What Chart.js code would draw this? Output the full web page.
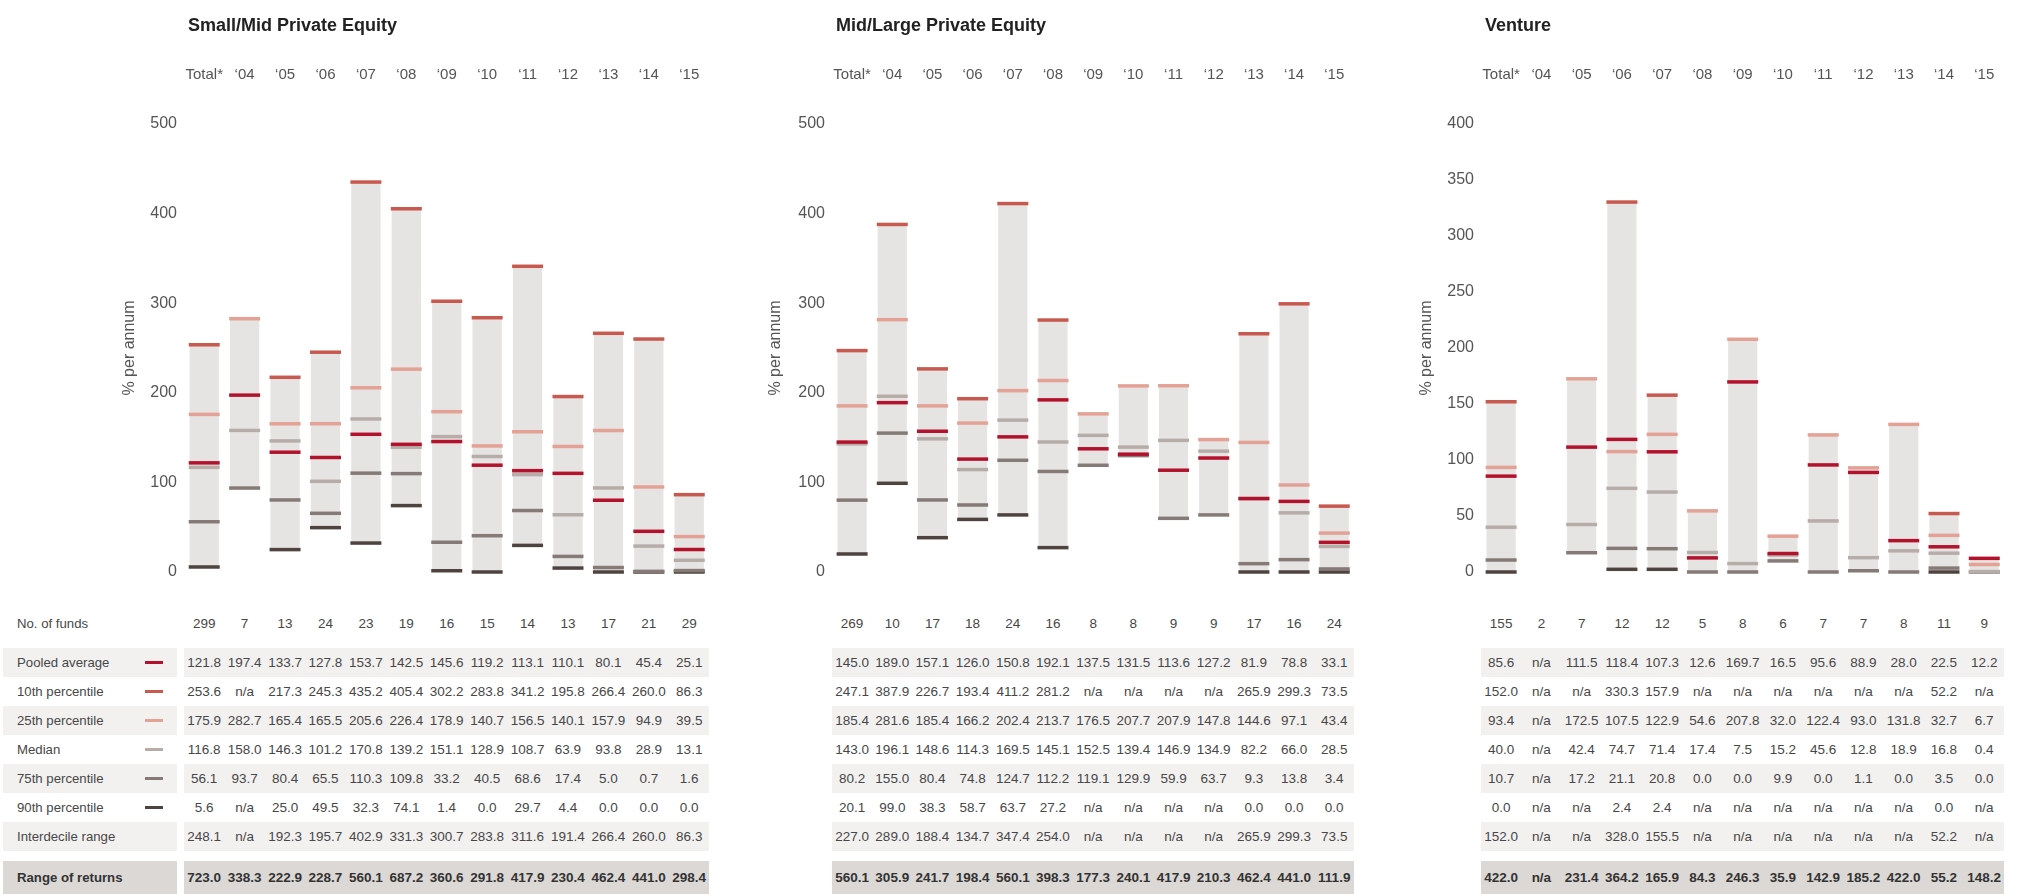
<!DOCTYPE html>
<html>
<head>
<meta charset="utf-8">
<title>Returns by vintage year</title>
<script src="https://cdn.jsdelivr.net/npm/chart.js"></script>
<style>
  html, body { margin: 0; padding: 0; background: #ffffff; }
  body {
    width: 2035px; height: 894px; position: relative; overflow: hidden;
    font-family: "Liberation Sans", Arial, Helvetica, sans-serif; color: #474747;
  }
  canvas { position: absolute; top: 0; }
  .title { position: absolute; top: 13px; font-size: 18px; font-weight: bold; color: #222222; white-space: nowrap; line-height: 24px; }
  .box { position: absolute; }
  .txt { position: absolute; font-size: 13.5px; white-space: nowrap; text-align: center; }
  .lbl { position: absolute; font-size: 13.2px; white-space: nowrap; }
  .bold { font-weight: bold; color: #333333; }
</style>
</head>
<body>
<script>
// Vintage years shown on every panel
const categories = ['Total*', '\u201804', '\u201805', '\u201806', '\u201807', '\u201808', '\u201809', '\u201810', '\u201811', '\u201812', '\u201813', '\u201814', '\u201815'];

// Small/Mid Private Equity
const smFunds       = [299, 7, 13, 24, 23, 19, 16, 15, 14, 13, 17, 21, 29];
const smPooled      = [121.8, 197.4, 133.7, 127.8, 153.7, 142.5, 145.6, 119.2, 113.1, 110.1, 80.1, 45.4, 25.1];
const smP10         = [253.6, null, 217.3, 245.3, 435.2, 405.4, 302.2, 283.8, 341.2, 195.8, 266.4, 260.0, 86.3];
const smP25         = [175.9, 282.7, 165.4, 165.5, 205.6, 226.4, 178.9, 140.7, 156.5, 140.1, 157.9, 94.9, 39.5];
const smMedian      = [116.8, 158.0, 146.3, 101.2, 170.8, 139.2, 151.1, 128.9, 108.7, 63.9, 93.8, 28.9, 13.1];
const smP75         = [56.1, 93.7, 80.4, 65.5, 110.3, 109.8, 33.2, 40.5, 68.6, 17.4, 5.0, 0.7, 1.6];
const smP90         = [5.6, null, 25.0, 49.5, 32.3, 74.1, 1.4, 0.0, 29.7, 4.4, 0.0, 0.0, 0.0];
const smInterdecile = [248.1, null, 192.3, 195.7, 402.9, 331.3, 300.7, 283.8, 311.6, 191.4, 266.4, 260.0, 86.3];
const smRange       = [723.0, 338.3, 222.9, 228.7, 560.1, 687.2, 360.6, 291.8, 417.9, 230.4, 462.4, 441.0, 298.4];

// Mid/Large Private Equity
const mlFunds       = [269, 10, 17, 18, 24, 16, 8, 8, 9, 9, 17, 16, 24];
const mlPooled      = [145.0, 189.0, 157.1, 126.0, 150.8, 192.1, 137.5, 131.5, 113.6, 127.2, 81.9, 78.8, 33.1];
const mlP10         = [247.1, 387.9, 226.7, 193.4, 411.2, 281.2, null, null, null, null, 265.9, 299.3, 73.5];
const mlP25         = [185.4, 281.6, 185.4, 166.2, 202.4, 213.7, 176.5, 207.7, 207.9, 147.8, 144.6, 97.1, 43.4];
const mlMedian      = [143.0, 196.1, 148.6, 114.3, 169.5, 145.1, 152.5, 139.4, 146.9, 134.9, 82.2, 66.0, 28.5];
const mlP75         = [80.2, 155.0, 80.4, 74.8, 124.7, 112.2, 119.1, 129.9, 59.9, 63.7, 9.3, 13.8, 3.4];
const mlP90         = [20.1, 99.0, 38.3, 58.7, 63.7, 27.2, null, null, null, null, 0.0, 0.0, 0.0];
const mlInterdecile = [227.0, 289.0, 188.4, 134.7, 347.4, 254.0, null, null, null, null, 265.9, 299.3, 73.5];
const mlRange       = [560.1, 305.9, 241.7, 198.4, 560.1, 398.3, 177.3, 240.1, 417.9, 210.3, 462.4, 441.0, 111.9];

// Venture
const vcFunds       = [155, 2, 7, 12, 12, 5, 8, 6, 7, 7, 8, 11, 9];
const vcPooled      = [85.6, null, 111.5, 118.4, 107.3, 12.6, 169.7, 16.5, 95.6, 88.9, 28.0, 22.5, 12.2];
const vcP10         = [152.0, null, null, 330.3, 157.9, null, null, null, null, null, null, 52.2, null];
const vcP25         = [93.4, null, 172.5, 107.5, 122.9, 54.6, 207.8, 32.0, 122.4, 93.0, 131.8, 32.7, 6.7];
const vcMedian      = [40.0, null, 42.4, 74.7, 71.4, 17.4, 7.5, 15.2, 45.6, 12.8, 18.9, 16.8, 0.4];
const vcP75         = [10.7, null, 17.2, 21.1, 20.8, 0.0, 0.0, 9.9, 0.0, 1.1, 0.0, 3.5, 0.0];
const vcP90         = [0.0, null, null, 2.4, 2.4, null, null, null, null, null, null, 0.0, null];
const vcInterdecile = [152.0, null, null, 328.0, 155.5, null, null, null, null, null, null, 52.2, null];
const vcRange       = [422.0, null, 231.4, 364.2, 165.9, 84.3, 246.3, 35.9, 142.9, 185.2, 422.0, 55.2, 148.2];

// Y axis ticks
const yTicksPE      = [0, 100, 200, 300, 400, 500];
const yTicksVenture = [0, 50, 100, 150, 200, 250, 300, 350, 400];

// Marker series (drawn as short horizontal strokes) and their colours
const seriesNames   = ['Pooled average', '10th percentile', '25th percentile', 'Median', '75th percentile', '90th percentile'];
const seriesColours = ['#b3122d', '#c7594f', '#e3a295', '#b6aca8', '#857a76', '#4f433f'];
const BAR_FILL = '#e6e4e2';

const panels = [
  { title: 'Small/Mid Private Equity', canvasLeft: 90, areaLeft: 184, areaRight: 740, axisTitlePad: 30.4, yTicks: yTicksPE,
    funds: smFunds, series: [smPooled, smP10, smP25, smMedian, smP75, smP90], interdecile: smInterdecile, range: smRange },
  { title: 'Mid/Large Private Equity', canvasLeft: 740, areaLeft: 832, areaRight: 1385, axisTitlePad: 26.4, yTicks: yTicksPE,
    funds: mlFunds, series: [mlPooled, mlP10, mlP25, mlMedian, mlP75, mlP90], interdecile: mlInterdecile, range: mlRange },
  { title: 'Venture', canvasLeft: 1390, areaLeft: 1481, areaRight: 2035, axisTitlePad: 27.4, yTicks: yTicksVenture,
    funds: vcFunds, series: [vcPooled, vcP10, vcP25, vcMedian, vcP75, vcP90], interdecile: vcInterdecile, range: vcRange }
];

const CANVAS_H = 591;      // plot bottom (value 0) sits at y = 575
const AXIS_TOP_H = 124;    // plot top (max value) sits at y = 124
const FUNDS_TOP = 609, ROW_TOP = 648, ROW_H = 29, RANGE_TOP = 861, RANGE_H = 33;
const ROW_FILL = '#f2f1f0', RANGE_FILL = '#dcd8d5';

function fmt(v) { return v === null ? 'n/a' : v.toFixed(1); }

function addBox(left, top, width, height, colour) {
  const d = document.createElement('div');
  d.className = 'box';
  Object.assign(d.style, { left: left + 'px', top: top + 'px', width: width + 'px', height: height + 'px', background: colour });
  document.body.appendChild(d);
}
function addCentered(text, cx, top, height, extra) {
  const d = document.createElement('div');
  d.className = 'txt' + (extra ? ' ' + extra : '');
  d.textContent = text;
  Object.assign(d.style, { left: (cx - 30) + 'px', width: '60px', top: top + 'px', height: height + 'px', lineHeight: height + 'px' });
  document.body.appendChild(d);
}
function addLabel(text, left, top, height, extra) {
  const d = document.createElement('div');
  d.className = 'lbl' + (extra ? ' ' + extra : '');
  d.textContent = text;
  Object.assign(d.style, { left: left + 'px', top: top + 'px', height: height + 'px', lineHeight: height + 'px' });
  document.body.appendChild(d);
}

function buildPanel(p) {
  const w = p.areaRight - p.canvasLeft;
  const canvas = document.createElement('canvas');
  canvas.width = w; canvas.height = CANVAS_H;
  canvas.style.left = p.canvasLeft + 'px';
  canvas.style.width = w + 'px'; canvas.style.height = CANVAS_H + 'px';
  document.body.appendChild(canvas);

  // Grey column spans from the lowest to the highest reported figure of the year
  const spans = categories.map((_, i) => {
    const vals = p.series.map(a => a[i]).filter(v => v !== null);
    return vals.length ? [Math.min(...vals), Math.max(...vals)] : null;
  });

  const datasets = [{
    type: 'bar', label: 'span', data: spans, backgroundColor: BAR_FILL,
    barPercentage: 0.725, categoryPercentage: 1, order: 10, clip: false
  }];
  p.series.forEach((arr, k) => {
    datasets.push({
      type: 'line', label: seriesNames[k], data: arr, showLine: false,
      pointStyle: 'line', pointRadius: 15.5, pointHoverRadius: 15.5,
      pointBorderWidth: 3.5, pointHoverBorderWidth: 3.5,
      borderColor: seriesColours[k], pointBorderColor: seriesColours[k], backgroundColor: seriesColours[k],
      order: k, clip: false
    });
  });

  const yMax = p.yTicks[p.yTicks.length - 1];
  const chart = new Chart(canvas, {
    type: 'bar',
    data: { labels: categories, datasets },
    options: {
      responsive: false, animation: false,
      layout: { padding: { top: 0, left: 0, right: 0, bottom: CANVAS_H - 575 } },
      plugins: { legend: { display: false }, tooltip: { enabled: false } },
      scales: {
        x: {
          position: 'top',
          grid: { display: false, drawTicks: false }, border: { display: false },
          ticks: { padding: 40, autoSkip: false, maxRotation: 0, color: '#555555',
                   font: { family: '"Liberation Sans", Arial, sans-serif', size: 15 } },
          afterFit: s => { s.height = AXIS_TOP_H; }
        },
        y: {
          min: 0, max: yMax,
          afterBuildTicks: s => { s.ticks = p.yTicks.map(v => ({ value: v })); },
          grid: { display: false, drawTicks: false }, border: { display: false },
          ticks: { padding: 7, color: '#555555', font: { family: '"Liberation Sans", Arial, sans-serif', size: 16 } },
          title: { display: true, text: '% per annum', color: '#555555', padding: { top: p.axisTitlePad, bottom: 0 },
                   font: { family: '"Liberation Sans", Arial, sans-serif', size: 16 } },
          afterFit: s => { s.width = p.areaLeft - p.canvasLeft; }
        }
      }
    }
  });

  // Panel title
  const t = document.createElement('div');
  t.className = 'title';
  t.textContent = p.title;
  t.style.left = (p.areaLeft + 4) + 'px';
  document.body.appendChild(t);

  // Figures table under the panel, one column per vintage
  const xs = categories.map((_, i) => p.canvasLeft + chart.scales.x.getPixelForValue(i));
  const bgLeft = p.canvasLeft + chart.chartArea.left;
  const bgW = chart.chartArea.right - chart.chartArea.left;

  const rows = [...p.series, p.interdecile];
  rows.forEach((_, r) => { if (r % 2 === 0) addBox(bgLeft, ROW_TOP + r * ROW_H, bgW, ROW_H, ROW_FILL); });
  addBox(bgLeft, RANGE_TOP, bgW, RANGE_H, RANGE_FILL);

  xs.forEach((cx, i) => {
    addCentered(String(p.funds[i]), cx, FUNDS_TOP, ROW_H);
    rows.forEach((arr, r) => addCentered(fmt(arr[i]), cx, ROW_TOP + r * ROW_H, ROW_H));
    addCentered(fmt(p.range[i]), cx, RANGE_TOP, RANGE_H, 'bold');
  });
}

// Row captions with the marker key
const rowLabels = ['Pooled average', '10th percentile', '25th percentile', 'Median', '75th percentile', '90th percentile', 'Interdecile range'];
function buildCaptions() {
  rowLabels.forEach((_, r) => { if (r % 2 === 0) addBox(3, ROW_TOP + r * ROW_H, 174, ROW_H, ROW_FILL); });
  addBox(3, RANGE_TOP, 174, RANGE_H, RANGE_FILL);
  addLabel('No. of funds', 17, FUNDS_TOP, ROW_H);
  rowLabels.forEach((txt, r) => {
    addLabel(txt, 17, ROW_TOP + r * ROW_H, ROW_H);
    if (r < seriesColours.length) addBox(145, ROW_TOP + r * ROW_H + 13, 18, 3, seriesColours[r]);
  });
  addLabel('Range of returns', 17, RANGE_TOP, RANGE_H, 'bold');
}

buildCaptions();
panels.forEach(buildPanel);
</script>
</body>
</html>
